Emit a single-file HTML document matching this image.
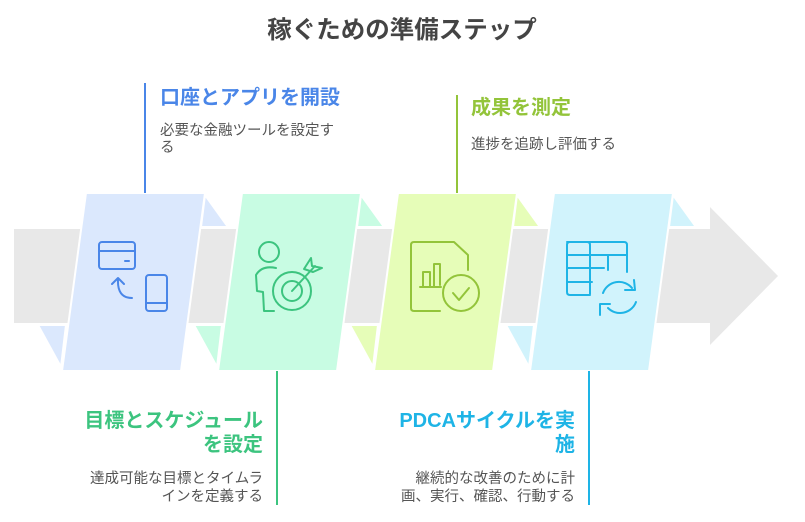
<!DOCTYPE html>
<html><head><meta charset="utf-8"><style>
body{margin:0;background:#fff;width:805px;height:517px;overflow:hidden;font-family:"Liberation Sans","Noto Sans CJK JP",sans-serif}
</style></head><body>
<svg width="805" height="517" xmlns="http://www.w3.org/2000/svg" style="font-family:'Liberation Sans','Noto Sans CJK JP',sans-serif">
<text x="402" y="38" text-anchor="middle" font-size="24.5" font-weight="bold" fill="#444">稼ぐための準備ステップ</text>
<polygon points="14,229 710,229 710,207 778,276 710,345 710,323 14,323" fill="#e8e8e8"/>
<g stroke="#fff" stroke-width="2">
<polygon points="205,195 228,227 201,227" fill="#dbe8fd"/>
<polygon points="38,325 66,325 61,367" fill="#dbe8fd"/>
<polygon points="86,193 205,193 181,371 62,371" fill="#dbe8fd"/>
<polygon points="361,195 384,227 357,227" fill="#c8fce3"/>
<polygon points="194,325 222,325 217,367" fill="#c8fce3"/>
<polygon points="242,193 361,193 337,371 218,371" fill="#c8fce3"/>
<polygon points="517,195 540,227 513,227" fill="#e6fdb8"/>
<polygon points="350,325 378,325 373,367" fill="#e6fdb8"/>
<polygon points="398,193 517,193 493,371 374,371" fill="#e6fdb8"/>
<polygon points="673,195 696,227 669,227" fill="#d1f3fc"/>
<polygon points="506,325 534,325 529,367" fill="#d1f3fc"/>
<polygon points="554,193 673,193 649,371 530,371" fill="#d1f3fc"/>
</g>
<line x1="145" y1="83" x2="145" y2="193" stroke="#4a86e8" stroke-width="2"/>
<line x1="457" y1="95" x2="457" y2="193" stroke="#93c43a" stroke-width="2"/>
<line x1="277" y1="371" x2="277" y2="505" stroke="#3cc47f" stroke-width="2"/>
<line x1="589" y1="371" x2="589" y2="505" stroke="#1eb4e6" stroke-width="2"/>
<g fill="none" stroke-width="2" stroke-linecap="round" stroke-linejoin="round">
<g stroke="#4a86e8">
<rect x="99" y="242" width="36" height="27" rx="3"/><line x1="99" y1="251" x2="135" y2="251"/><line x1="125" y1="261" x2="129" y2="261"/>
<rect x="146" y="275" width="21" height="36" rx="3"/><line x1="146" y1="303" x2="167" y2="303"/>
<path d="M112 284 L118 278 L124 284 M118 279 Q117 298 132 298"/>
</g>
<g stroke="#3cc47f">
<circle cx="269" cy="252" r="10"/><path d="M276 268 Q262 265 256 275 L257 291 L263 292 L264 311 L274 311"/>
<circle cx="292" cy="291" r="19"/><circle cx="292" cy="291" r="10"/><path d="M292 291 L315 266 M304 269 L311 258 L312 266 L322 268 L313 272 Z"/>
</g>
<g stroke="#93c43a">
<path d="M440 311 L414 311 Q411 311 411 308 L411 245 Q411 242 414 242 L454 242 L468 255 L468 270"/>
<path d="M420 287 L441 287 M423 287 L423 272 L430 272 L430 287 M434 287 L434 264 L440 264 L440 285"/>
<circle cx="461" cy="293" r="18"/><path d="M453 293 L459 300 L469 288"/>
</g>
<g stroke="#1eb4e6">
<path d="M590 294 L590 245 Q590 242 587 242 L570 242 Q567 242 567 245 L567 292 Q567 295 570 295 L590 295"/>
<path d="M567 242 L624 242 Q627 242 627 245 L627 272 M567 255 L627 255 M567 268 L604 268 M567 282 L592 282 M608 255 L608 270"/>
<path d="M603 293 A17 17 0 0 1 632 288 M634 280 L635 290 L625 290 M636 302 A17 17 0 0 1 608 308 M600 315 L600 304 L610 304"/>
</g>
</g>
<g font-weight="bold" font-size="20">
<text x="160" y="104" fill="#4a86e8">口座とアプリを開設</text>
<text x="471" y="114" fill="#93c43a">成果を測定</text>
<text x="263" y="427" text-anchor="end" fill="#3cc47f">目標とスケジュール</text>
<text x="263" y="451" text-anchor="end" fill="#3cc47f">を設定</text>
<text x="575" y="427" text-anchor="end" fill="#1eb4e6">PDCAサイクルを実</text>
<text x="575" y="451" text-anchor="end" fill="#1eb4e6">施</text>
</g>
<g font-size="14.5" fill="#555">
<text x="160" y="135">必要な金融ツールを設定す</text>
<text x="160" y="152">る</text>
<text x="471" y="149">進捗を追跡し評価する</text>
<text x="263" y="483" text-anchor="end">達成可能な目標とタイムラ</text>
<text x="263" y="501" text-anchor="end">インを定義する</text>
<text x="575" y="483" text-anchor="end">継続的な改善のために計</text>
<text x="575" y="501" text-anchor="end">画、実行、確認、行動する</text>
</g>
</svg>
</body></html>
